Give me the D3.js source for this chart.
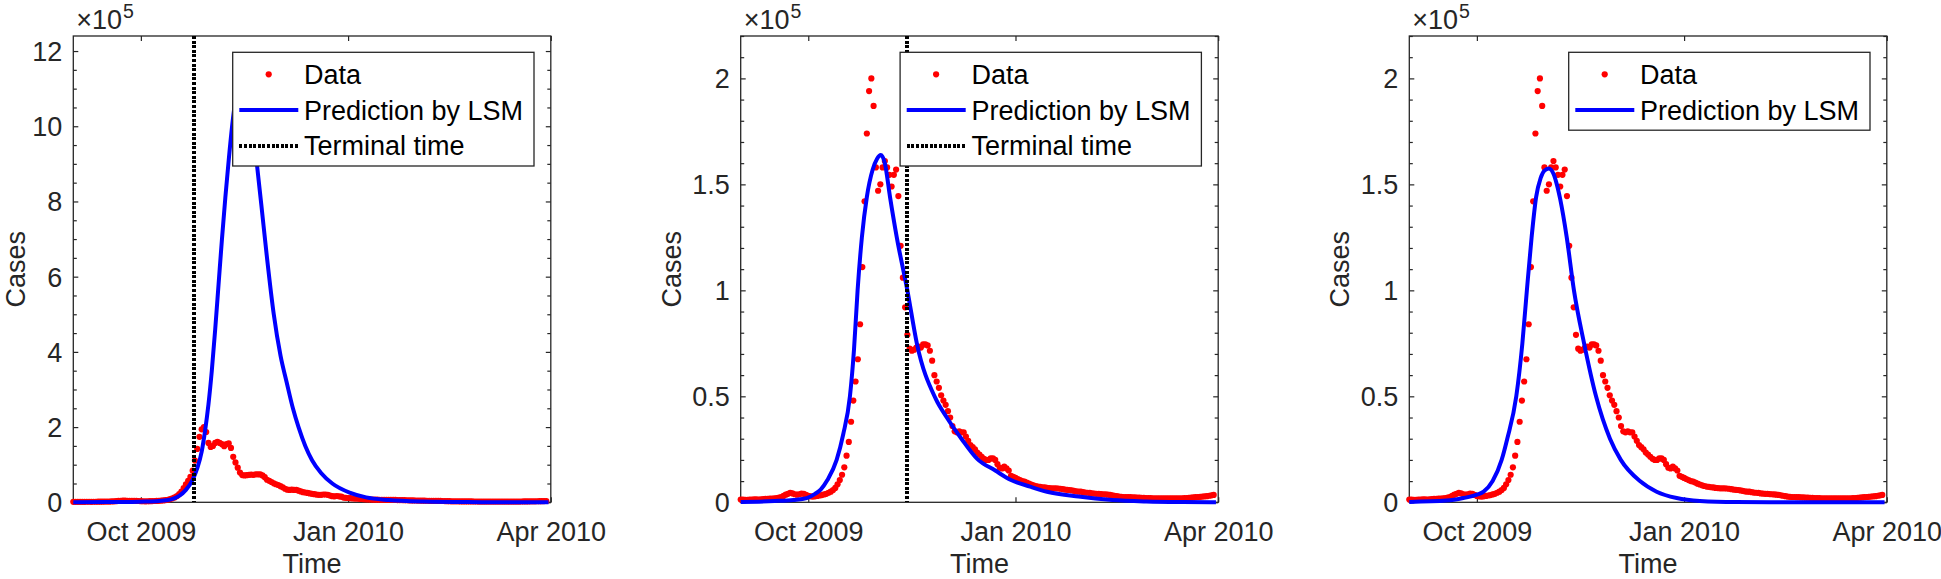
<!DOCTYPE html>
<html><head><meta charset="utf-8">
<script src="https://cdn.jsdelivr.net/npm/d3@7"></script>
<style>
body{margin:0;background:#fff}
svg{display:block}
text{font-family:"Liberation Sans",Arial,Helvetica,sans-serif}
</style>
</head><body>
<svg id="chart" width="1941" height="579"></svg>
<script>
// ---------------- DATA ----------------
const startDate = "2009-09-01";
const xDomain = ["2009-09-01", "2010-04-01"];
const xTickDates = ["2009-10-01", "2010-01-01", "2010-04-01"];
const xTickLabels = ["Oct 2009", "Jan 2010", "Apr 2010"];

// daily reported cases from 2009-09-01 onward
const dailyCases = [
  1300,1300,1200,1200,1300,1300,1400,1400,1300,1400,
  1500,1600,1600,1700,1800,1900,2000,2200,2500,3000,
  3600,4000,4400,4200,3800,3600,3800,4100,4000,3500,
  3000,2800,2700,2800,3000,3200,3400,3700,4000,4500,
  5000,5800,6800,8500,10500,13000,16500,22000,28500,38000,
  48000,57000,67500,84000,111000,142000,174000,194000,200000,187000,
  158000,147000,150000,158000,161000,158000,154500,149000,154500,157000,
  144500,121000,106000,92000,79000,72500,71500,72000,73000,73500,
  73000,74500,74500,74000,71500,66800,60000,57000,54000,50500,
  48000,46000,43000,40000,36000,33500,33000,33500,33000,33000,
  31000,29000,27000,26000,25000,23500,22500,21500,20500,20000,
  20000,20700,20700,20000,18000,16300,16000,16800,16000,15000,
  12500,12000,11500,11000,10500,10000,9800,9300,8800,8400,
  8000,7700,7400,7300,7100,7000,6800,6700,6600,6600,
  6600,6500,6400,6200,6000,5900,5800,5600,5400,5200,
  5000,5000,4800,4600,4500,4400,4200,4100,4000,4000,
  3900,3800,3700,3600,3500,3300,3100,2900,2700,2600,
  2500,2500,2400,2400,2300,2300,2200,2200,2100,2100,
  2000,2000,2000,1900,1900,1900,1900,1900,1900,1900,
  1900,1900,1900,1900,1900,1900,1900,2000,2000,2100,
  2200,2300,2400,2500,2600,2700,2800,2900,3100,3300,3500
];

// LSM predictions: day offset from startDate, predicted cases
const pred1Days  = [0,15,25,32,38,43,47,50,53,55,57,58.5,60,61.5,63,64.5,66,67.5,69,70.5,72,74,75.5,77,79,81.5,83.5,86,89,92,94.7,97.5,100,103,106,110,115,123,130,140,155,175,211];
const pred1Cases = [0.004e5,0.006e5,0.01e5,0.018e5,0.035e5,0.07e5,0.17e5,0.33e5,0.6e5,0.9e5,1.35e5,1.9e5,2.6e5,3.5e5,4.6e5,5.8e5,7.0e5,8.1e5,9.1e5,10.0e5,10.7e5,11.15e5,11.27e5,11.15e5,10.5e5,9.0e5,7.9e5,6.5e5,5.0e5,3.9e5,3.2e5,2.5e5,2.0e5,1.5e5,1.12e5,0.78e5,0.5e5,0.25e5,0.13e5,0.06e5,0.02e5,0.005e5,0.001e5];

const pred2Days  = [0,15,23.4,29.3,33,35.5,38.5,42.6,45.5,48.5,50.3,51.9,53.8,56,58.6,60.5,62.2,64,66.3,69.3,74,78.2,86.5,91.5,98,105,113,120,128.5,136,150,165,180,195,211];
const pred2Cases = [0.002e5,0.006e5,0.011e5,0.02e5,0.04e5,0.06e5,0.105e5,0.2e5,0.32e5,0.5e5,0.72e5,1.0e5,1.25e5,1.44e5,1.57e5,1.62e5,1.638e5,1.6e5,1.44e5,1.25e5,1.0e5,0.75e5,0.49e5,0.4e5,0.3e5,0.205e5,0.15e5,0.105e5,0.074e5,0.05e5,0.027e5,0.011e5,0.004e5,0.001e5,0];

const pred3Days  = [0,16.6,24,30,33,37,41,43.5,47.5,50.2,52.2,54.3,56.3,58.3,60,62,64,65.5,67,69.9,73.1,77.6,82.9,89.1,93.9,102.4,109.8,118.7,129,145,170,211];
const pred3Cases = [0.002e5,0.008e5,0.02e5,0.036e5,0.05e5,0.1e5,0.2e5,0.3e5,0.5e5,0.75e5,1.0e5,1.25e5,1.44e5,1.53e5,1.565e5,1.575e5,1.55e5,1.5e5,1.43e5,1.25e5,1.0e5,0.75e5,0.5e5,0.3e5,0.2e5,0.1e5,0.05e5,0.02e5,0.006e5,0.001e5,0,0];

const terminalTimes = ["2009-10-24T12:00:00Z", "2009-11-14T00:00:00Z", null];

const yMaxes = [12.4e5, 2.2e5, 2.2e5];
const yTicks1 = [0,2e5,4e5,6e5,8e5,10e5,12e5];
const yTickLabels1 = ["0","2","4","6","8","10","12"];
const yTicks23 = [0,0.5e5,1e5,1.5e5,2e5];
const yTickLabels23 = ["0","0.5","1","1.5","2"];
const yMinorStep = [0.5e5, 0.1e5, 0.1e5];
const exponentLabel = "5";

const legendLabels = ["Data", "Prediction by LSM", "Terminal time"];
const xLabel = "Time";
const yLabel = "Cases";

// ---------------- LAYOUT ----------------
const svg = d3.select("#chart");
svg.append("rect").attr("width",1941).attr("height",579).attr("fill","#fff");
const AX = "#262626";
const FS = 27;
const lefts = [73.3, 740.7, 1409.3];
const W = 477.5, TOP = 36, BOT = 502.3;
const parseUTC = s => new Date(s.length === 10 ? s + "T00:00:00Z" : s);
const start = parseUTC(startDate);
const dataPts = dailyCases.map((v,i)=>({date: d3.utcDay.offset(start, i), v}));
const toPred = (days, vals) => days.map((d,i)=>({date: new Date(start.getTime() + d*864e5), v: vals[i]}));
const preds = [toPred(pred1Days,pred1Cases), toPred(pred2Days,pred2Cases), toPred(pred3Days,pred3Cases)];
const DASH = "3,1.6";

for (let i=0;i<3;i++){
  const L = lefts[i];
  const g = svg.append("g");
  const x = d3.scaleUtc().domain(xDomain.map(parseUTC)).range([L, L+W]);
  const y = d3.scaleLinear().domain([0, yMaxes[i]]).range([BOT, TOP]);
  const ticks = i===0 ? yTicks1 : yTicks23;
  const tickLabels = i===0 ? yTickLabels1 : yTickLabels23;
  const minor = d3.range(0, yMaxes[i] + 1, yMinorStep[i]).filter(v => !ticks.some(t => Math.abs(t-v) < 1));

  // axes box
  g.append("rect").attr("x",L).attr("y",TOP).attr("width",W).attr("height",BOT-TOP)
    .attr("fill","none").attr("stroke",AX).attr("stroke-width",1.3);

  const xt = xTickDates.map(parseUTC);
  const fmtX = d => xTickLabels[xt.findIndex(t=>+t===+d)];
  const gb = g.append("g").attr("transform",`translate(0,${BOT})`)
    .call(d3.axisBottom(x).tickValues(xt).tickFormat(fmtX).tickSizeInner(-5).tickSizeOuter(0).tickPadding(20));
  const gt = g.append("g").attr("transform",`translate(0,${TOP})`)
    .call(d3.axisTop(x).tickValues(xt).tickFormat("").tickSizeInner(-5).tickSizeOuter(0));
  const fmtY = d => tickLabels[ticks.indexOf(d)];
  const gl = g.append("g").attr("transform",`translate(${L},0)`)
    .call(d3.axisLeft(y).tickValues(ticks).tickFormat(fmtY).tickSizeInner(-5).tickSizeOuter(0).tickPadding(11));
  const glm = g.append("g").attr("transform",`translate(${L},0)`)
    .call(d3.axisLeft(y).tickValues(minor).tickFormat("").tickSizeInner(-3.5).tickSizeOuter(0));
  const gr = g.append("g").attr("transform",`translate(${L+W},0)`)
    .call(d3.axisRight(y).tickValues(ticks).tickFormat("").tickSizeInner(-5).tickSizeOuter(0));
  const grm = g.append("g").attr("transform",`translate(${L+W},0)`)
    .call(d3.axisRight(y).tickValues(minor).tickFormat("").tickSizeInner(-3.5).tickSizeOuter(0));
  [gb,gt,gl,glm,gr,grm].forEach(a=>{
    a.select(".domain").remove();
    a.selectAll("line").attr("stroke",AX).attr("stroke-width",1.2);
    a.selectAll("text").attr("fill",AX).style("font-size",FS+"px").style("font-family",'"Liberation Sans",Arial,sans-serif');
  });
  gl.selectAll("text").attr("dy","0.35em");

  // data dots
  g.append("g").selectAll("circle").data(dataPts).join("circle")
    .attr("cx",d=>x(d.date)).attr("cy",d=>y(d.v)).attr("r",3.1).attr("fill","#ff0000");
  // prediction
  const line = d3.line().x(d=>x(d.date)).y(d=>y(d.v)).curve(d3.curveMonotoneX);
  g.append("path").attr("d",line(preds[i])).attr("fill","none").attr("stroke","#0000ff").attr("stroke-width",4);
  // terminal time
  if (terminalTimes[i]) {
    const tx = Math.round(x(parseUTC(terminalTimes[i])));
    g.append("line").attr("x1",tx).attr("x2",tx).attr("y1",TOP).attr("y2",BOT)
      .attr("stroke","#000").attr("stroke-width",4).attr("stroke-dasharray",DASH)
      .attr("shape-rendering","crispEdges");
  }

  // exponent label
  const ex = g.append("text").attr("x",L+3).attr("y",29.3).attr("fill",AX).style("font-size",FS+"px");
  ex.append("tspan").text("\u00d710");
  ex.append("tspan").attr("dx",1).attr("dy",-11.5).style("font-size","19.5px").text(exponentLabel);

  // x label
  g.append("text").attr("x",L+W/2).attr("y",573).attr("text-anchor","middle").attr("fill",AX)
    .style("font-size",FS+"px").text(xLabel);
  // y label
  let maxW = 0;
  gl.selectAll("text").each(function(){ maxW = Math.max(maxW, this.getComputedTextLength()); });
  const yl = Math.max(L - 11 - maxW - 11.5, 25), yc = (TOP+BOT)/2;
  g.append("text").attr("transform",`translate(${yl},${yc}) rotate(-90)`).attr("text-anchor","middle")
    .attr("fill",AX).style("font-size",FS+"px").text(yLabel);

  // legend
  const nRows = terminalTimes[i] ? 3 : 2;
  const lgW = 301.3, rowH = 35.8;
  const lgH = 42.1 + (nRows-1)*rowH;
  const lgX = L + W - 16.8 - lgW, lgY = TOP + 16.3;
  const lg = g.append("g");
  lg.append("rect").attr("x",lgX).attr("y",lgY).attr("width",lgW).attr("height",lgH)
    .attr("fill","#fff").attr("stroke",AX).attr("stroke-width",1.3);
  for (let r=0;r<nRows;r++){
    const cy = lgY + 22 + r*rowH;
    if (r===0) lg.append("circle").attr("cx",lgX+36).attr("cy",cy).attr("r",3.1).attr("fill","#ff0000");
    if (r===1) lg.append("line").attr("x1",lgX+6.6).attr("x2",lgX+65.6).attr("y1",cy).attr("y2",cy)
      .attr("stroke","#0000ff").attr("stroke-width",4);
    if (r===2) lg.append("line").attr("x1",lgX+6.6).attr("x2",lgX+65.6).attr("y1",Math.round(cy)).attr("y2",Math.round(cy))
      .attr("stroke","#000").attr("stroke-width",4).attr("stroke-dasharray",DASH).attr("shape-rendering","crispEdges");
    lg.append("text").attr("x",lgX+71.3).attr("y",cy).attr("dy","0.35em").attr("fill","#000")
      .style("font-size",FS+"px").text(legendLabels[r]);
  }
}
</script>
</body></html>
